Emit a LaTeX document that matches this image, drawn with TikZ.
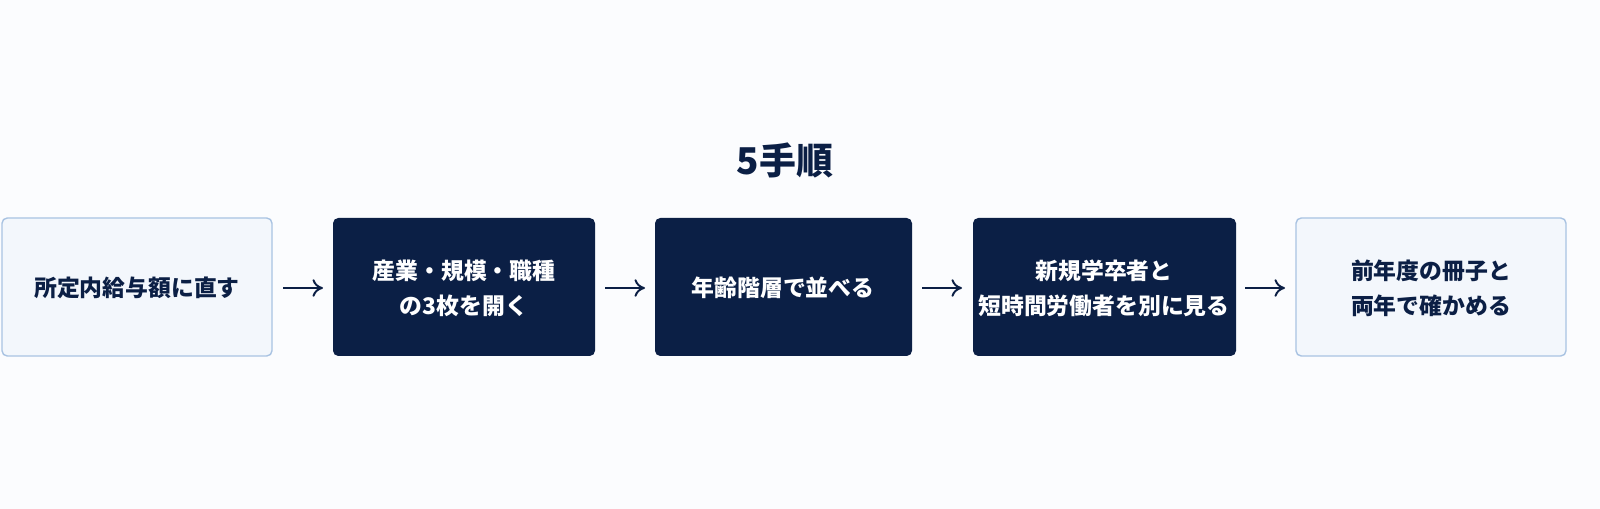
\documentclass[tikz,border=0pt]{standalone}
\usepackage{fontspec}
\usetikzlibrary{arrows.meta}
\setmainfont{Noto Sans CJK JP}
\definecolor{navy}{HTML}{0B1F45}
\definecolor{lfill}{HTML}{F3F7FC}
\definecolor{lborder}{HTML}{A9C3E2}
\definecolor{bg}{HTML}{FBFCFE}
\begin{document}
\begin{tikzpicture}[x=0.02cm,y=-0.02cm,
 light/.style={draw=lborder,line width=0.8pt,fill=lfill,rounded corners=3pt,text=navy},
 dark/.style={fill=navy,rounded corners=3pt,text=white},
 lbl/.style={font=\fontsize{13}{20}\selectfont\bfseries,align=center},
 arr/.style={draw=navy,line width=1.1pt,-{To[length=6pt,width=10pt]}}]
\fill[bg] (0,0) rectangle (1600,509);
\useasboundingbox (0,0) rectangle (1600,509);
\node[text=navy,font=\fontsize{21}{25}\selectfont\bfseries] (t) at (785,160) {5手順};
\path[light] (2,218) rectangle (272,356);
\path[dark] (333,218) rectangle (595,356);
\path[dark] (655,218) rectangle (912,356);
\path[dark] (973,218) rectangle (1236,356);
\path[light] (1296,218) rectangle (1566,356);
\node[lbl,text=navy] (a) at (137,288) {所定内給与額に直す};
\node[lbl,text=white] (b) at (464,288) {産業・規模・職種\\の3枚を開く};
\node[lbl,text=white] (c) at (783,288) {年齢階層で並べる};
\node[lbl,text=white] (d) at (1104,288) {新規学卒者と\\短時間労働者を別に見る};
\node[lbl,text=navy] (e) at (1431,288) {前年度の冊子と\\両年で確かめる};
\coordinate (a1) at (283,288); \coordinate (a2) at (323,288);
\coordinate (b1) at (605,288); \coordinate (b2) at (645,288);
\coordinate (c1) at (922,288); \coordinate (c2) at (962,288);
\coordinate (d1) at (1245,288); \coordinate (d2) at (1285,288);
\draw[arr] (a1) -- (a2);
\draw[arr] (b1) -- (b2);
\draw[arr] (c1) -- (c2);
\draw[arr] (d1) -- (d2);
\end{tikzpicture}
\end{document}
